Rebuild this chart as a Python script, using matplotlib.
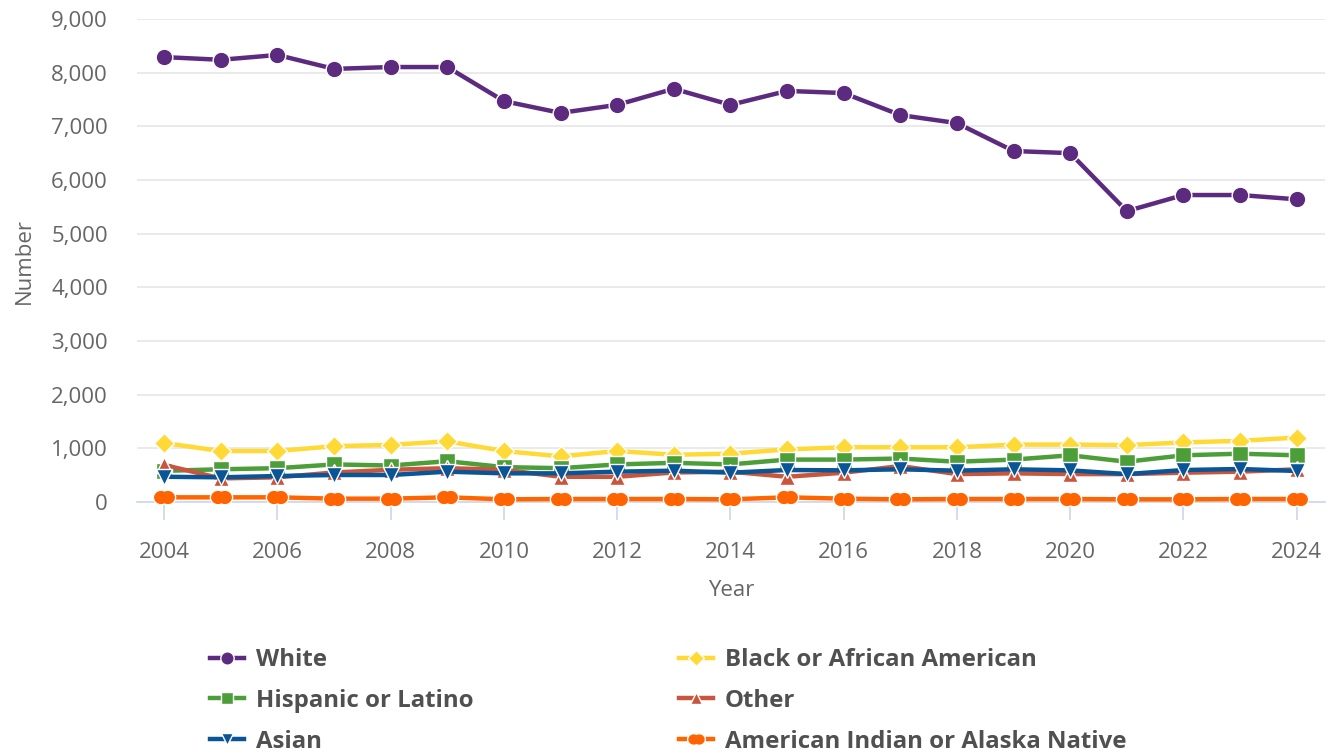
import numpy as np
import matplotlib
matplotlib.use("Agg")
import matplotlib.pyplot as plt
from matplotlib.path import Path
from matplotlib.ticker import FuncFormatter, MultipleLocator

years = list(range(2004, 2025))
series_names = ["White", "Black or African American", "Hispanic or Latino",
                "Other", "Asian", "American Indian or Alaska Native"]
white = [8290, 8240, 8330, 8070, 8105, 8105, 7470, 7250, 7400, 7700, 7400,
         7660, 7620, 7210, 7060, 6540, 6500, 5420, 5720, 5720, 5640]
black = [1100, 950, 950, 1040, 1065, 1130, 950, 850, 950, 880, 900,
         980, 1020, 1020, 1020, 1070, 1070, 1060, 1110, 1140, 1200]
hispanic = [580, 610, 630, 700, 680, 760, 650, 630, 700, 730, 700,
            790, 790, 810, 750, 790, 870, 750, 870, 900, 870]
other = [690, 440, 460, 550, 600, 630, 600, 470, 470, 550, 565,
         470, 546, 670, 520, 534, 520, 520, 546, 565, 609]
asian = [470, 460, 484, 503, 503, 565, 534, 534, 565, 584, 546,
         596, 590, 609, 584, 609, 590, 520, 596, 615, 578]
aian = [87, 87, 87, 62, 62, 87, 50, 56, 56, 56, 50,
        87, 62, 50, 56, 56, 56, 50, 50, 56, 56]
xticks = list(range(2004, 2025, 2))

colors = ["#5c2a7e", "#ffd935", "#4c9e38", "#c9553d", "#0a5595", "#ff6400"]


def two_circles():
    # "pinched" marker: union of two overlapping circles
    r = 1.0
    d = 0.45
    a0 = np.arccos(d / r)
    pts = []
    angs = np.linspace(-np.pi + a0, np.pi - a0, 40)
    pts += [(d + r * np.cos(a), 0.95 * r * np.sin(a)) for a in angs]
    angs2 = np.linspace(a0, 2 * np.pi - a0, 40)
    pts += [(-d + r * np.cos(a), 0.95 * r * np.sin(a)) for a in angs2]
    pts.append(pts[0])
    return Path(pts, closed=True)


pinch = two_circles()

markers = ["o", "D", "s", "^", "v", pinch]
msizes = [12, 10, 11, 11, 11, 16]
data = [white, black, hispanic, other, asian, aian]

plt.rcParams['font.family'] = ['Open Sans', 'DejaVu Sans']
fig = plt.figure(figsize=(13.37, 7.55), dpi=100)
ax = fig.add_axes([137 / 1337, 1 - 502 / 755, (1325 - 137) / 1337, (502 - 19) / 755])

handles = []
for i, (name, vals) in enumerate(zip(series_names, data)):
    h, = ax.plot(years, vals, color=colors[i], lw=3.2, marker=markers[i],
                 markersize=msizes[i], markeredgecolor="white", markeredgewidth=1,
                 clip_on=False, zorder=3 + i, label=name)
    handles.append(h)

ax.set_xlim(2003.52, 2024.5)
ax.set_ylim(0, 9000)
ax.yaxis.set_major_locator(MultipleLocator(1000))
ax.yaxis.set_major_formatter(FuncFormatter(lambda v, p: f"{int(v):,}"))
ax.set_xticks(xticks)
ax.grid(axis="y", color="#e6e6e6", lw=1.2)
ax.set_axisbelow(True)
for s in ["top", "right", "left"]:
    ax.spines[s].set_visible(False)
ax.spines["bottom"].set_color("#ccd6eb")
ax.spines["bottom"].set_linewidth(1.2)
ax.tick_params(axis="x", colors="#ccd6eb", length=13, width=1.2, labelcolor="#666666",
               labelsize=16, pad=16)
ax.tick_params(axis="y", length=0, labelcolor="#666666", labelsize=16, pad=21)
ax.set_xlabel("Year", fontsize=16, color="#666666", labelpad=12)
ax.set_ylabel("Number", fontsize=16, color="#666666", labelpad=12)

leg_kw = dict(frameon=False, prop={"weight": "bold", "size": 17.3},
              handlelength=1.4, handletextpad=0.5, labelspacing=0.7,
              labelcolor="#505050", borderaxespad=0, borderpad=0)
leg1 = fig.legend([handles[0], handles[2], handles[4]],
                  [series_names[0], series_names[2], series_names[4]],
                  loc="upper left", bbox_to_anchor=(210 / 1337, 1 - 648 / 755),
                  markerscale=0.8, **leg_kw)
leg2 = fig.legend([handles[1], handles[3], handles[5]],
                  [series_names[1], series_names[3], series_names[5]],
                  loc="upper left", bbox_to_anchor=(679 / 1337, 1 - 648 / 755),
                  markerscale=0.8, **leg_kw)

fig.savefig("out.png", dpi=100)
